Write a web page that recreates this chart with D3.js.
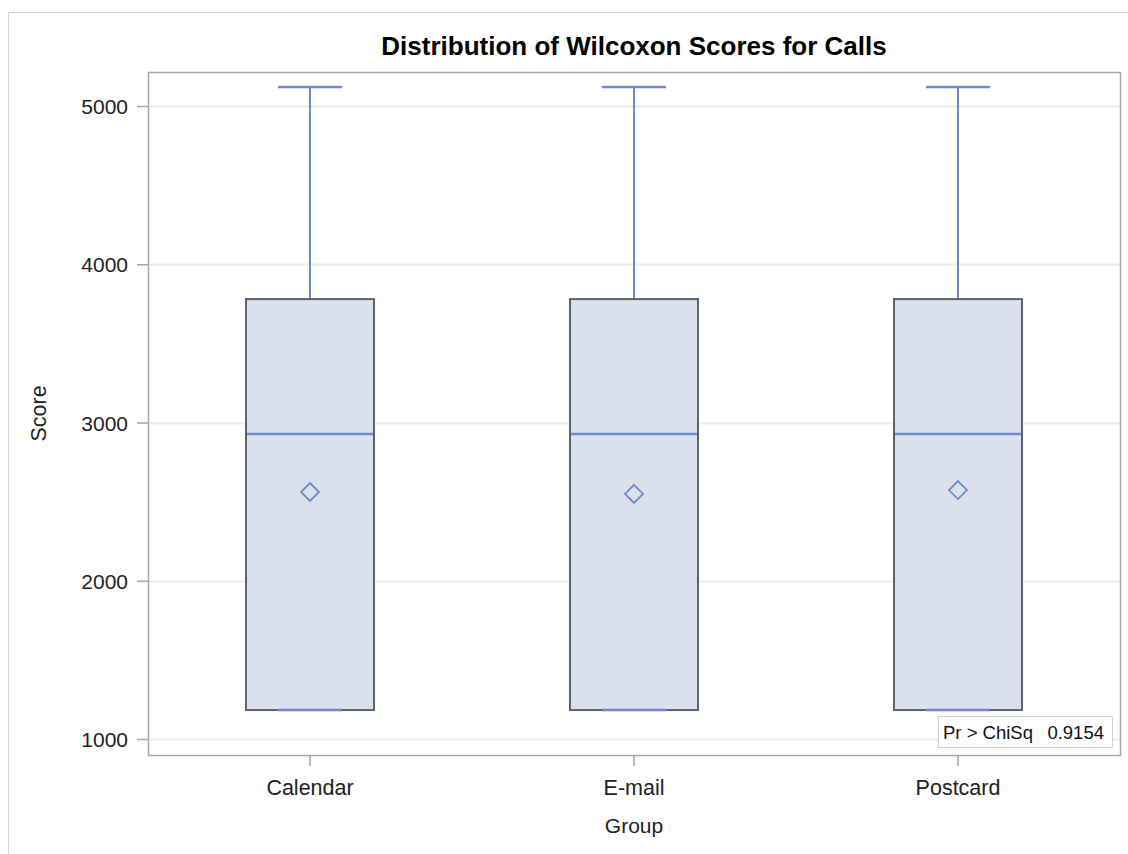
<!DOCTYPE html>
<html>
<head>
<meta charset="utf-8">
<script src="https://cdn.jsdelivr.net/npm/d3@7"></script>
<style>
  html, body { margin: 0; padding: 0; background: #fff; }
  svg { display: block; font-family: "Liberation Sans", Arial, sans-serif; }
</style>
</head>
<body>
<svg id="chart" width="1128" height="854"></svg>
<script>
// Wilcoxon score distribution per group
const groups   = ["Calendar", "E-mail", "Postcard"];
const minScore = [1183, 1183, 1183];
const q1Score  = [1183, 1183, 1183];
const medScore = [2927, 2927, 2927];
const q3Score  = [3780, 3780, 3780];
const maxScore = [5120, 5120, 5120];
const meanScore = [2561, 2549, 2573];
const yTicks   = [1000, 2000, 3000, 4000, 5000];
const pValue   = "0.9154";

const svg = d3.select("#chart");
const W = 1128, H = 854;
const plot = { left: 148, top: 72, right: 1120, bottom: 755 };
const FONT = "Liberation Sans, Arial, sans-serif";

// outer frame (top and left edges)
svg.append("line").attr("x1", 8.5).attr("x2", W).attr("y1", 12.5).attr("y2", 12.5)
  .attr("stroke", "#d4d4d4").attr("stroke-width", 1);
svg.append("line").attr("x1", 8.5).attr("x2", 8.5).attr("y1", 12.5).attr("y2", H)
  .attr("stroke", "#d4d4d4").attr("stroke-width", 1);

const x = d3.scaleBand().domain(groups).range([plot.left, plot.right]).paddingInner(0).paddingOuter(0);
const y = d3.scaleLinear().domain([899, 5215]).range([plot.bottom, plot.top]);

// horizontal grid
svg.append("g").selectAll("line").data(yTicks).join("line")
  .attr("x1", plot.left).attr("x2", plot.right)
  .attr("y1", d => Math.round(y(d)) + 0.5).attr("y2", d => Math.round(y(d)) + 0.5)
  .attr("stroke", "#ebebeb").attr("stroke-width", 2);

const lineCol = "#6f8bcd";
const boxW = x.bandwidth() * 0.395;
const capW = boxW / 2;

const boxes = svg.append("g").selectAll("g").data(groups).join("g")
  .attr("transform", d => `translate(${x(d) + x.bandwidth() / 2},0)`);

// upper whisker and cap
boxes.append("line")
  .attr("x1", 0).attr("x2", 0)
  .attr("y1", (d, i) => y(maxScore[i])).attr("y2", (d, i) => y(q3Score[i]))
  .attr("stroke", lineCol).attr("stroke-width", 2);
boxes.append("line")
  .attr("x1", -capW / 2).attr("x2", capW / 2)
  .attr("y1", (d, i) => y(maxScore[i])).attr("y2", (d, i) => y(maxScore[i]))
  .attr("stroke", lineCol).attr("stroke-width", 2.5);

// box body
boxes.append("rect")
  .attr("x", -boxW / 2).attr("width", boxW)
  .attr("y", (d, i) => y(q3Score[i]))
  .attr("height", (d, i) => y(q1Score[i]) - y(q3Score[i]))
  .attr("fill", "#dae1ec").attr("stroke", "#5d626b").attr("stroke-width", 2);

// lower whisker cap (coincides with Q1)
boxes.append("line")
  .attr("x1", -capW / 2).attr("x2", capW / 2)
  .attr("y1", (d, i) => y(minScore[i])).attr("y2", (d, i) => y(minScore[i]))
  .attr("stroke", lineCol).attr("stroke-width", 2.5);

// median
boxes.append("line")
  .attr("x1", -boxW / 2 + 1).attr("x2", boxW / 2 - 1)
  .attr("y1", (d, i) => y(medScore[i])).attr("y2", (d, i) => y(medScore[i]))
  .attr("stroke", lineCol).attr("stroke-width", 2.5);

// mean marker
boxes.append("path")
  .attr("d", (d, i) => {
    const cy = y(meanScore[i]), r = 9;
    return `M0,${cy - r}L${r},${cy}L0,${cy + r}L${-r},${cy}Z`;
  })
  .attr("fill", "none").attr("stroke", lineCol).attr("stroke-width", 1.8);

// plot frame
svg.append("rect")
  .attr("x", plot.left + 0.5).attr("y", plot.top + 0.5)
  .attr("width", plot.right - plot.left).attr("height", plot.bottom - plot.top)
  .attr("fill", "none").attr("stroke", "#a6a9ad").attr("stroke-width", 1.5);

// axes
const yAxis = svg.append("g").attr("transform", `translate(${plot.left},0)`)
  .call(d3.axisLeft(y).tickValues(yTicks).tickSize(11).tickPadding(9).tickFormat(d3.format("d")));
yAxis.select(".domain").remove();
yAxis.selectAll(".tick line").attr("stroke", "#a6a9ad").attr("stroke-width", 1.5);
yAxis.selectAll(".tick text").attr("font-size", 21).attr("fill", "#222").attr("font-family", FONT)
  .attr("dy", "0.36em");

const xAxis = svg.append("g").attr("transform", `translate(0,${plot.bottom})`)
  .call(d3.axisBottom(x).tickSize(11).tickPadding(14));
xAxis.select(".domain").remove();
xAxis.selectAll(".tick line").attr("stroke", "#a6a9ad").attr("stroke-width", 1.5);
xAxis.selectAll(".tick text").attr("font-size", 21.5).attr("fill", "#222").attr("font-family", FONT);

// axis titles
svg.append("text").attr("x", (plot.left + plot.right) / 2).attr("y", 833)
  .attr("text-anchor", "middle").attr("font-size", 21).attr("fill", "#222").text("Group");
svg.append("text").attr("transform", `translate(46,${(plot.top + plot.bottom) / 2}) rotate(-90)`)
  .attr("text-anchor", "middle").attr("font-size", 21.5).attr("fill", "#222").text("Score");

// title
svg.append("text").attr("x", (plot.left + plot.right) / 2).attr("y", 55)
  .attr("text-anchor", "middle").attr("font-size", 26).attr("font-weight", "bold")
  .attr("fill", "#000").text("Distribution of Wilcoxon Scores for Calls");

// test statistic inset
const inset = svg.append("g").attr("transform", "translate(938,716)");
inset.append("rect").attr("x", 0.5).attr("y", 0.5).attr("width", 174).attr("height", 31)
  .attr("fill", "#fff").attr("stroke", "#d0d0d0").attr("stroke-width", 1);
inset.append("text").attr("x", 5).attr("y", 23).attr("font-size", 18.5).attr("fill", "#111")
  .text("Pr > ChiSq");
inset.append("text").attr("x", 166).attr("y", 23).attr("text-anchor", "end")
  .attr("font-size", 18.5).attr("fill", "#111").text(pValue);
</script>
</body>
</html>
